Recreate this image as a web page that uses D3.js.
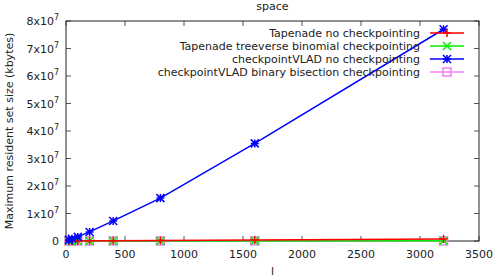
<!DOCTYPE html>
<html>
<head>
<meta charset="utf-8">
<script src="https://cdn.jsdelivr.net/npm/d3@7"></script>
<style>
  body { margin: 0; background: #fff; }
  text { font-family: "DejaVu Sans", sans-serif; font-size: 11px; fill: #222; }
</style>
</head>
<body>
<div class="chart"></div>
<script>
const lValues = [25, 50, 100, 200, 400, 800, 1600, 3200];
const tapenadeNo = [15000, 25000, 40000, 60000, 100000, 180000, 350000, 700000];
const tapenadeBinomial = [5000, 6000, 8000, 10000, 15000, 25000, 45000, 90000];
const vladNo = [400000, 800000, 1500000, 3300000, 7300000, 15600000, 35500000, 77000000];
const vladBisection = [3000, 4000, 5000, 7000, 10000, 15000, 25000, 45000];
const seriesNames = [
  "Tapenade no checkpointing",
  "Tapenade treeverse binomial checkpointing",
  "checkpointVLAD no checkpointing",
  "checkpointVLAD binary bisection checkpointing"
];
const xTicks = [0, 500, 1000, 1500, 2000, 2500, 3000, 3500];
const yTicks = [0, 1, 2, 3, 4, 5, 6, 7, 8];

const W = 494, H = 278;
const margin = { top: 21, right: 15, bottom: 37, left: 66 };
const width = W - margin.left - margin.right;
const height = H - margin.top - margin.bottom;

const svg = d3.select(".chart").append("svg")
  .attr("width", W).attr("height", H);

const g = svg.append("g")
  .attr("transform", `translate(${margin.left}, ${margin.top})`);

const x = d3.scaleLinear().domain([0, 3500]).range([0, width]);
const y = d3.scaleLinear().domain([0, 8e7]).range([height, 0]);

// ticks (gnuplot style: inward, mirrored)
const tl = 5;
g.selectAll(".xt").data(xTicks).join("g").each(function(d) {
  const s = d3.select(this);
  s.append("line").attr("x1", x(d)).attr("x2", x(d)).attr("y1", height).attr("y2", height - tl).attr("stroke", "#555");
  s.append("line").attr("x1", x(d)).attr("x2", x(d)).attr("y1", 0).attr("y2", tl).attr("stroke", "#555");
  s.append("text").attr("x", x(d)).attr("y", height + 17).attr("text-anchor", "middle").text(d);
});
g.selectAll(".yt").data(yTicks).join("g").each(function(d) {
  const s = d3.select(this);
  const yy = y(d * 1e7);
  s.append("line").attr("x1", 0).attr("x2", tl).attr("y1", yy).attr("y2", yy).attr("stroke", "#555");
  s.append("line").attr("x1", width).attr("x2", width - tl).attr("y1", yy).attr("y2", yy).attr("stroke", "#555");
  const t = s.append("text").attr("x", -7).attr("y", yy + 4).attr("text-anchor", "end");
  if (d === 0) t.text("0");
  else {
    t.append("tspan").text(d + "x10");
    t.append("tspan").attr("dy", -5).style("font-size", "8px").text("7");
  }
});

g.append("rect").attr("width", width).attr("height", height)
  .attr("fill", "none").attr("stroke", "#222").attr("stroke-width", 1);

// labels
svg.append("text").attr("x", margin.left + width / 2).attr("y", 10).attr("text-anchor", "middle").text("space");
svg.append("text").attr("x", margin.left + width / 2).attr("y", 275).attr("text-anchor", "middle").text("l");
svg.append("text")
  .attr("transform", `translate(13, ${margin.top + height / 2}) rotate(-90)`)
  .attr("text-anchor", "middle").text("Maximum resident set size (kbytes)");

const colors = ["#ff0000", "#00ee00", "#0000ff", "#ee82ee"];
const allSeries = [tapenadeNo, tapenadeBinomial, vladNo, vladBisection];

function marker(sel, i, cx, cy) {
  const c = colors[i], r = 4;
  if (i === 0) {
    sel.append("path").attr("d", `M${cx - r},${cy}h${2 * r}M${cx},${cy - r}v${2 * r}`).attr("stroke", c).attr("stroke-width", 1.5);
  } else if (i === 1) {
    sel.append("path").attr("d", `M${cx - r},${cy - r}L${cx + r},${cy + r}M${cx - r},${cy + r}L${cx + r},${cy - r}`).attr("stroke", c).attr("stroke-width", 1.5);
  } else if (i === 2) {
    sel.append("path").attr("d", `M${cx - r},${cy}h${2 * r}M${cx},${cy - r}v${2 * r}M${cx - r},${cy - r}L${cx + r},${cy + r}M${cx - r},${cy + r}L${cx + r},${cy - r}`).attr("stroke", c).attr("stroke-width", 1.5);
  } else {
    sel.append("rect").attr("x", cx - r).attr("y", cy - r).attr("width", 2 * r).attr("height", 2 * r).attr("fill", "none").attr("stroke", c).attr("stroke-width", 1.5);
  }
}

const line = d3.line().x(d => x(d[0])).y(d => y(d[1]));
const plotOrder = [3, 1, 0, 2];
plotOrder.forEach(i => {
  const pts = lValues.map((l, k) => [l, allSeries[i][k]]);
  const sg = g.append("g");
  sg.append("path").datum(pts).attr("d", line).attr("fill", "none").attr("stroke", colors[i]).attr("stroke-width", 1.5);
  pts.forEach(p => marker(sg, i, x(p[0]), y(p[1])));
});

// legend
const lg = svg.append("g");
seriesNames.forEach((name, i) => {
  const yy = 33 + i * 13;
  lg.append("text").attr("x", 420).attr("y", yy + 4).attr("text-anchor", "end").text(name);
  lg.append("line").attr("x1", 430).attr("x2", 464).attr("y1", yy).attr("y2", yy).attr("stroke", colors[i]).attr("stroke-width", 1.5);
  marker(lg, i, 447, yy);
});
</script>
</body>
</html>
